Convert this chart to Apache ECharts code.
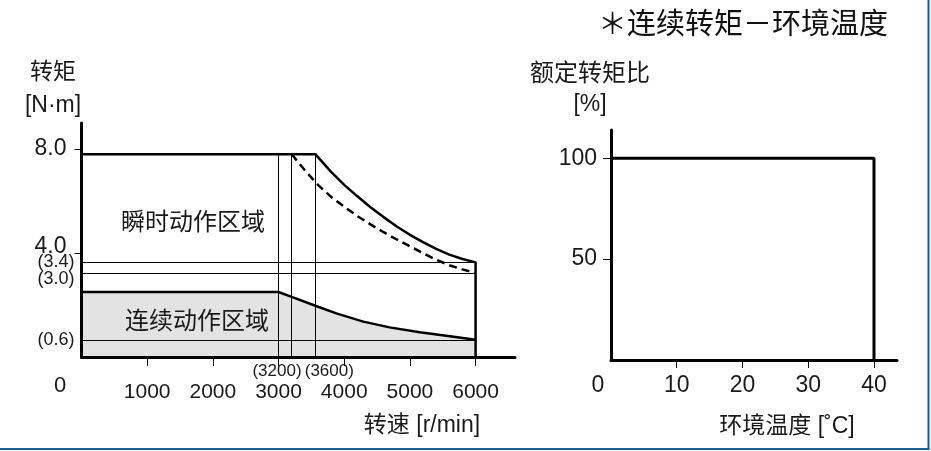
<!DOCTYPE html>
<html><head><meta charset="utf-8">
<script src="https://cdn.jsdelivr.net/npm/echarts@6/dist/echarts.min.js"></script>
<style>html,body{margin:0;padding:0;background:#fff}#c{width:931px;height:451px}</style>
</head><body><div id="c"></div>
<script>
// ---- data ----
const speedTicks = [1000, 2000, 3000, 4000, 5000, 6000];
const speedMarks = [3190, 3560];
const speedMarkLabels = ['(3200)', '(3600)'];
const speedRefLines = [3000, 3190, 3560];
const torqueTicks = [4, 8];
const torqueMarks = [3.64, 3.23, 0.65];
const torqueMarkLabels = ['(3.4)', '(3.0)', '(0.6)'];
const instantSolid = [[0,7.8],[3560,7.8],[3800,7.12],[4000,6.62],[4200,6.18],[4400,5.76],[4600,5.38],[4800,5.02],[5000,4.7],[5200,4.42],[5400,4.16],[5600,3.94],[5800,3.77],[6000,3.64],[6000,0]];
const instantDashed = [[3200,7.8],[3400,7.18],[3600,6.62],[3800,6.16],[4000,5.78],[4200,5.42],[4400,5.1],[4600,4.8],[4800,4.52],[5000,4.26],[5200,3.99],[5400,3.74],[5600,3.53],[5800,3.37],[6000,3.23]];
const continuous = [[0,2.5],[3000,2.5],[3190,2.32],[3560,1.97],[3880,1.68],[4290,1.36],[4690,1.14],[5150,0.95],[5610,0.8],[6000,0.66]];
const tempTicks = [10, 20, 30, 40];
const ratioTicks = [50, 100];
const ratedRatio = [[0,100],[40,100],[40,0]];

const TXT = '#1a1a1a';
const LAT = "'Liberation Sans', Arial, sans-serif";
const CJK = "'Liberation Sans', 'Noto Sans CJK SC', sans-serif";

const topTorque = instantSolid[1][1];
const maxSpeed = speedTicks[speedTicks.length - 1];

const refLines = [];
speedRefLines.forEach(s => refLines.push([{coord:[s,0]},{coord:[s,topTorque]}]));
torqueMarks.forEach(t => refLines.push([{coord:[0,t]},{coord:[maxSpeed,t]}]));

const chart = echarts.init(document.getElementById('c'), null, {renderer:'canvas'});
chart.setOption({
  animation: false,
  backgroundColor: '#fff',
  grid: [
    {left: 81.5, right: 416, top: 123, bottom: 94},
    {left: 611, right: 34, top: 130, bottom: 91}
  ],
  xAxis: [
    {
      gridIndex: 0, type: 'value', min: 0, max: 6600, z: 10,
      axisLine: {show: true, lineStyle: {color: '#000', width: 3}},
      axisTick: {show: true, customValues: speedTicks, length: 9, lineStyle: {color: '#000', width: 1}},
      splitLine: {show: false},
      axisLabel: {
        customValues: [0].concat(speedTicks, speedMarks).sort((a,b)=>a-b),
        margin: 6, color: TXT,
        formatter: function (v) {
          if (v === 0) return '{z|0}';
          const i = speedMarks.indexOf(v);
          if (i === 0) return '{ml|' + speedMarkLabels[i] + '}';
          if (i === 1) return '{mr|' + speedMarkLabels[i] + '}';
          return '{n|' + v + '}';
        },
        rich: {
          z: {fontFamily: LAT, fontSize: 22, color: TXT, padding: [12, 43, 0, 0]},
          n: {fontFamily: LAT, fontSize: 21, color: TXT, padding: [19, 0, 0, 0]},
          ml: {fontFamily: LAT, fontSize: 17, color: TXT, padding: [0, 28, 0, 0]},
          mr: {fontFamily: LAT, fontSize: 17, color: TXT, padding: [0, 0, 0, 28]}
        }
      }
    },
    {
      gridIndex: 1, type: 'value', min: 0, max: 43.5, z: 10,
      axisLine: {show: true, lineStyle: {color: '#000', width: 3}},
      axisTick: {show: true, customValues: tempTicks, length: 8, lineStyle: {color: '#000', width: 1}},
      splitLine: {show: false},
      axisLabel: {
        customValues: [0].concat(tempTicks),
        margin: 14, color: TXT,
        formatter: function (v) { return v === 0 ? '{z|0}' : '{n|' + v + '}'; },
        rich: {
          z: {fontFamily: LAT, fontSize: 23, color: TXT, padding: [0, 26, 0, 0]},
          n: {fontFamily: LAT, fontSize: 23, color: TXT}
        }
      }
    }
  ],
  yAxis: [
    {
      gridIndex: 0, type: 'value', min: 0, max: 9, z: 10,
      axisLine: {show: true, lineStyle: {color: '#000', width: 3}},
      axisTick: {show: true, customValues: torqueTicks, length: 7, lineStyle: {color: '#000', width: 1}},
      splitLine: {show: false},
      axisLabel: {
        customValues: torqueMarks.concat(torqueTicks).sort((a,b)=>a-b),
        margin: 7, color: TXT,
        formatter: function (v) {
          const i = torqueMarks.indexOf(v);
          if (i < 0) return (v === 4 ? '{tu|' : '{t|') + v.toFixed(1) + '}';
          return (i === 1 ? '{md|' : '{m|') + torqueMarkLabels[i] + '}';
        },
        rich: {
          t: {fontFamily: LAT, fontSize: 23, color: TXT, padding: [0, 8, 0, 0]},
          tu: {fontFamily: LAT, fontSize: 23, color: TXT, padding: [0, 8, 12, 0]},
          m: {fontFamily: LAT, fontSize: 18, color: TXT},
          md: {fontFamily: LAT, fontSize: 18, color: TXT, padding: [12, 0, 0, 0]}
        }
      }
    },
    {
      gridIndex: 1, type: 'value', min: 0, max: 114, z: 10,
      axisLine: {show: true, lineStyle: {color: '#000', width: 3}},
      axisTick: {show: true, customValues: ratioTicks, length: 8, lineStyle: {color: '#000', width: 1}},
      splitLine: {show: false},
      axisLabel: {customValues: ratioTicks, margin: 14, color: TXT, fontFamily: LAT, fontSize: 23}
    }
  ],
  series: [
    {
      name: '连续动作区域', type: 'line', xAxisIndex: 0, yAxisIndex: 0,
      data: continuous, showSymbol: false, silent: true, z: 2,
      lineStyle: {color: '#000', width: 2.5},
      areaStyle: {color: '#e3e3e3', opacity: 1},
      markLine: {
        silent: true, symbol: ['none','none'], animation: false,
        label: {show: false},
        lineStyle: {color: '#000', width: 1, type: 'solid'},
        emphasis: {disabled: true},
        data: refLines
      }
    },
    {
      name: '瞬时动作区域', type: 'line', xAxisIndex: 0, yAxisIndex: 0,
      data: instantSolid, showSymbol: false, silent: true, z: 4,
      lineStyle: {color: '#000', width: 2.5}
    },
    {
      name: '瞬时动作区域2', type: 'line', xAxisIndex: 0, yAxisIndex: 0,
      data: instantDashed, showSymbol: false, silent: true, z: 4,
      lineStyle: {color: '#000', width: 2.5, type: [8, 5]}
    },
    {
      name: '额定转矩比', type: 'line', xAxisIndex: 1, yAxisIndex: 1,
      data: ratedRatio, showSymbol: false, silent: true, z: 4,
      lineStyle: {color: '#000', width: 3}
    }
  ],
  graphic: [
    {type:'text', x: 888, y: 23, z: 20, style:{text:'＊连续转矩－环境温度', align:'right', verticalAlign:'middle', fill:'#111', font:"29px 'Noto Sans CJK SC', sans-serif"}},
    {type:'text', x: 53, y: 73, z: 20, style:{text:'转矩', align:'center', verticalAlign:'middle', fill:TXT, font:"23px " + CJK}},
    {type:'text', x: 53, y: 106, z: 20, style:{text:'[N·m]', align:'center', verticalAlign:'middle', fill:TXT, font:"23px " + LAT}},
    {type:'text', x: 590, y: 74, z: 20, style:{text:'额定转矩比', align:'center', verticalAlign:'middle', fill:TXT, font:"24px " + CJK}},
    {type:'text', x: 590, y: 105, z: 20, style:{text:'[%]', align:'center', verticalAlign:'middle', fill:TXT, font:"23px " + LAT}},
    {type:'text', x: 193, y: 223, z: 20, style:{text:'瞬时动作区域', align:'center', verticalAlign:'middle', fill:TXT, font:"24px " + CJK}},
    {type:'text', x: 197, y: 322, z: 20, style:{text:'连续动作区域', align:'center', verticalAlign:'middle', fill:TXT, font:"24px " + CJK}},
    {type:'text', x: 422, y: 426, z: 20, style:{text:'转速 [r/min]', align:'center', verticalAlign:'middle', fill:TXT, font:"23px " + CJK}},
    {type:'text', x: 787, y: 427, z: 20, style:{text:'环境温度 [˚C]', align:'center', verticalAlign:'middle', fill:TXT, font:"23px " + CJK}},
    {type:'line', z: 20, shape:{x1: 928.5, y1: 0, x2: 928.5, y2: 449.5}, style:{stroke:'#1f5a96', lineWidth: 2}},
    {type:'line', z: 20, shape:{x1: 0, y1: 449, x2: 929.5, y2: 449}, style:{stroke:'#1f5a96', lineWidth: 2}}
  ]
});
</script>
</body></html>
